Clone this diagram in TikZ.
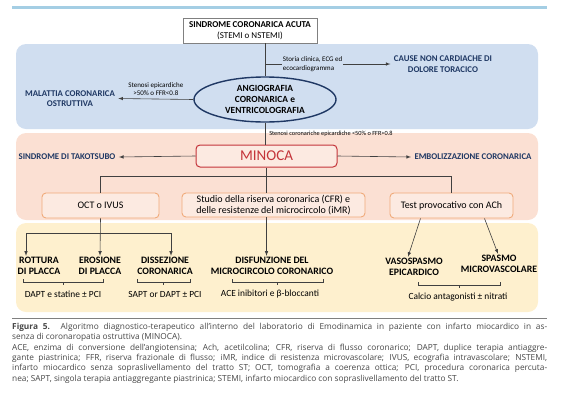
\documentclass[tikz,border=0pt]{standalone}
\usepackage{fontspec}
\setmainfont{Carlito}
\newfontfamily\didafont{Open Sans}
\usetikzlibrary{shapes.geometric}
\definecolor{bandblu}{RGB}{208,222,240}
\definecolor{bandsalmone}{RGB}{251,224,211}
\definecolor{bandgiallo}{RGB}{254,240,206}
\definecolor{boxsalmone}{RGB}{252,234,225}
\definecolor{bordoarancio}{RGB}{240,170,122}
\definecolor{rosso}{RGB}{196,52,58}
\definecolor{navy}{RGB}{31,56,100}
\definecolor{grigiolinea}{RGB}{64,64,64}
\definecolor{azzurro}{RGB}{164,206,228}
\definecolor{testo}{RGB}{70,70,70}
\tikzstyle{conn}=[draw=grigiolinea,line width=0.6pt]
\tikzstyle{freccia}=[conn,->,>=latex]
\tikzstyle{esito}=[font=\fontsize{8.8}{10.5}\selectfont\bfseries,text=navy,align=center]
\tikzstyle{nota}=[font=\fontsize{7}{8.6}\selectfont,align=left,inner sep=1pt]
\tikzstyle{esame}=[draw=bordoarancio,fill=boxsalmone,rounded corners=4pt,line width=0.9pt,
  font=\fontsize{10}{11}\selectfont,align=center,inner sep=1pt]
\tikzstyle{diagnosi}=[font=\fontsize{9.8}{11.5}\selectfont\bfseries,align=center,inner sep=1pt]
\tikzstyle{cura}=[font=\fontsize{9.4}{10}\selectfont,inner sep=1pt]
\newcommand{\graffa}[3]{\draw[conn] (#1,#3-3) -- (#1,#3) -- (#2,#3) -- (#2,#3-3);
  \draw[conn] ({(#1+#2)/2},#3) -- ({(#1+#2)/2},#3+3);}
\newcommand{\riga}[1]{\makebox[535pt][s]{#1}}

\begin{document}
\begin{tikzpicture}[x=1pt,y=-1pt]
\useasboundingbox (0,0) rectangle (571,408);
%filetto in alto
\draw[azzurro,line width=3pt] (12,7) -- (547,7);
%fasce
\fill[bandblu,rounded corners=10pt] (16,44) rectangle (538,129);
\fill[bandsalmone,rounded corners=10pt] (16,133) rectangle (538,220);
\fill[bandgiallo,rounded corners=10pt] (16,223) rectangle (538,312);

%primo livello
\node[draw=gray,fill=white,minimum width=134pt,minimum height=25pt,align=center,inner sep=1pt,
  font=\fontsize{9}{11}\selectfont] (sca) at (250,30.5)
  {\textbf{SINDROME CORONARICA ACUTA}\\(STEMI o NSTEMI)};
\node[ellipse,draw=navy,line width=1.4pt,fill=bandblu,minimum width=142pt,minimum height=45pt,
  inner sep=0pt,align=center,font=\fontsize{9.4}{10.6}\selectfont\bfseries] (angio) at (265,99.5)
  {ANGIOGRAFIA\\CORONARICA e\\VENTRICOLOGRAFIA};
\node[esito] (cause) at (443,64) {CAUSE NON CARDIACHE DI\\DOLORE TORACICO};
\node[esito] (malattia) at (70,98.5) {MALATTIA CORONARICA\\OSTRUTTIVA};
\coordinate (storia) at (angio.north |- cause);
\draw[conn] (angio.north |- sca.south) -- (angio.north);
\draw[freccia] (storia) -- (cause.west)
  node[nota,pos=0.38,fill=bandblu] {Storia clinica, ECG ed\\ecocardiogramma};
\draw[freccia] (angio.west) -- (malattia.east)
  node[nota,midway,above=2pt,align=center] {Stenosi epicardiche\\>50\% o FFR<0.8};

%MINOCA
\node[draw=rosso,fill=boxsalmone,rounded corners=4pt,line width=1pt,minimum width=141pt,
  minimum height=22pt,text=rosso,font=\fontsize{15}{15}\selectfont] (minoca) at (266.5,156) {MINOCA};
\node[esito] (tako) at (67,157) {SINDROME DI TAKOTSUBO};
\node[esito] (embol) at (473,157) {EMBOLIZZAZIONE CORONARICA};
\draw[conn] (angio.south) -- (angio.south |- minoca.north)
  node[nota,pos=0.5,anchor=west,xshift=3pt,font=\fontsize{6.3}{7}\selectfont]
  {Stenosi coronariche epicardiche <50\% o FFR>0.8};
\draw[freccia] (minoca.west) -- (tako.east);
\draw[freccia] (minoca.east) -- (embol.west);

%esami
\node[esame,minimum width=117pt,minimum height=25pt] (oct) at (100.5,205.5) {OCT o IVUS};
\node[esame,minimum width=183pt,minimum height=24pt] (studio) at (273.5,205)
  {Studio della riserva coronarica (CFR) e\\delle resistenze del microcircolo (iMR)};
\node[esame,minimum width=123pt,minimum height=25pt] (test) at (451.5,205.5) {Test provocativo con ACh};
\draw[conn] (minoca.south) -- (minoca.south |- studio.north);
\draw[conn] (oct.north) -- ++(0,-16) -| (test.north);

%diagnosi
\node[diagnosi] (rottura) at (39,266) {ROTTURA\\DI PLACCA};
\node[diagnosi] (erosione) at (100,266) {EROSIONE\\DI PLACCA};
\node[diagnosi] (dissezione) at (165,266) {DISSEZIONE\\CORONARICA};
\node[diagnosi] (disfunzione) at (272,266) {DISFUNZIONE DEL\\MICROCIRCOLO CORONARICO};
\node[diagnosi] (vaso) at (414,267) {VASOSPASMO\\EPICARDICO};
\node[diagnosi] (spasmo) at (499,264) {SPASMO\\MICROVASCOLARE};
\coordinate (bivio) at (oct.south |- 0,233);
\draw[freccia] (oct.south) -- (erosione.north);
\draw[freccia] (bivio) -| ([xshift=-13pt]rottura.north);
\draw[freccia] (bivio) -| ([xshift=6pt]dissezione.north);
\draw[freccia] (minoca.south |- studio.south) -- (minoca.south |- disfunzione.north);
\draw[freccia] ([xshift=-31pt]test.south) -- ([xshift=-6pt]vaso.north);
\draw[freccia] ([xshift=33pt]test.south) -- ([xshift=-1pt]spasmo.north);

%terapie
\graffa{23}{103}{282}
\graffa{137}{190}{282}
\graffa{232}{323}{282}
\graffa{418}{500}{285}
\node[cura] (t1) at (63,294) {DAPT e statine ± PCI};
\node[cura] (t2) at (165,294) {SAPT or DAPT ± PCI};
\node[cura] (t3) at (270,294) {ACE inibitori e β-bloccanti};
\node[cura] (t4) at (458,297) {Calcio antagonisti ± nitrati};

%didascalia
\draw[gray,line width=0.8pt] (12,318) -- (547,318);
\node[anchor=north west,inner sep=0pt,align=left,text=testo,font=\didafont\fontsize{8.3}{10.3}\selectfont]
  (didascalia) at (12,323) {%
  \riga{\textbf{Figura 5.} Algoritmo diagnostico-terapeutico all’interno del laboratorio di Emodinamica in paziente con infarto miocardico in as-}\\
  senza di coronaropatia ostruttiva (MINOCA).\\
  \riga{ACE, enzima di conversione dell’angiotensina; Ach, acetilcolina; CFR, riserva di flusso coronarico; DAPT, duplice terapia antiaggre-}\\
  \riga{gante piastrinica; FFR, riserva frazionale di flusso; iMR, indice di resistenza microvascolare; IVUS, ecografia intravascolare; NSTEMI,}\\
  \riga{infarto miocardico senza sopraslivellamento del tratto ST; OCT, tomografia a coerenza ottica; PCI, procedura coronarica percuta-}\\
  nea; SAPT, singola terapia antiaggregante piastrinica; STEMI, infarto miocardico con sopraslivellamento del tratto ST.};
\end{tikzpicture}
\end{document}
